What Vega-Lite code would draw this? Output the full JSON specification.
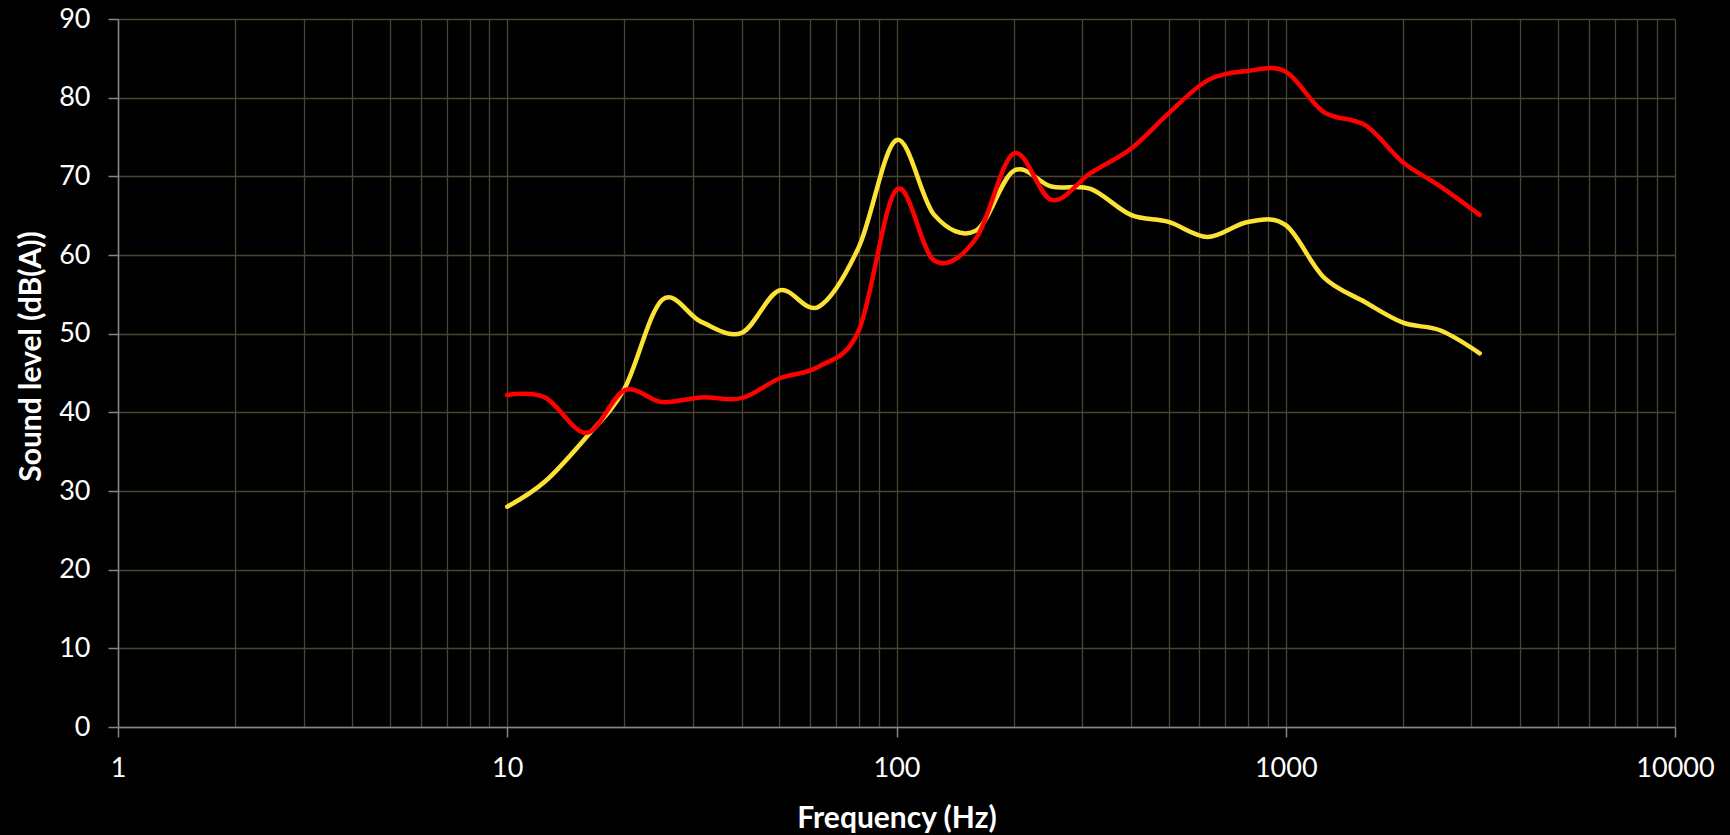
{
  "$schema": "https://vega.github.io/schema/vega-lite/v6.json",
  "width": 1557,
  "height": 708,
  "autosize": {"type": "none"},
  "padding": {"left": 118, "top": 19, "right": 55, "bottom": 108},
  "background": "#000000",
  "config": {"view": {"stroke": null}, "font": "Lato"},
  "data": {
    "values": [
      {"freq": 10, "level": 28.0, "series": "yellow"},
      {"freq": 12.5, "level": 31.2, "series": "yellow"},
      {"freq": 16, "level": 36.9, "series": "yellow"},
      {"freq": 20, "level": 43.0, "series": "yellow"},
      {"freq": 25, "level": 54.3, "series": "yellow"},
      {"freq": 31.5, "level": 51.5, "series": "yellow"},
      {"freq": 40, "level": 50.1, "series": "yellow"},
      {"freq": 50, "level": 55.5, "series": "yellow"},
      {"freq": 63, "level": 53.4, "series": "yellow"},
      {"freq": 80, "level": 61.0, "series": "yellow"},
      {"freq": 100, "level": 74.6, "series": "yellow"},
      {"freq": 125, "level": 65.1, "series": "yellow"},
      {"freq": 160, "level": 63.1, "series": "yellow"},
      {"freq": 200, "level": 70.7, "series": "yellow"},
      {"freq": 250, "level": 68.7, "series": "yellow"},
      {"freq": 315, "level": 68.4, "series": "yellow"},
      {"freq": 400, "level": 65.1, "series": "yellow"},
      {"freq": 500, "level": 64.2, "series": "yellow"},
      {"freq": 630, "level": 62.3, "series": "yellow"},
      {"freq": 800, "level": 64.2, "series": "yellow"},
      {"freq": 1000, "level": 63.8, "series": "yellow"},
      {"freq": 1250, "level": 57.2, "series": "yellow"},
      {"freq": 1600, "level": 54.0, "series": "yellow"},
      {"freq": 2000, "level": 51.4, "series": "yellow"},
      {"freq": 2500, "level": 50.4, "series": "yellow"},
      {"freq": 3150, "level": 47.5, "series": "yellow"},
      {"freq": 10, "level": 42.2, "series": "red"},
      {"freq": 12.5, "level": 41.9, "series": "red"},
      {"freq": 16, "level": 37.4, "series": "red"},
      {"freq": 20, "level": 42.8, "series": "red"},
      {"freq": 25, "level": 41.3, "series": "red"},
      {"freq": 31.5, "level": 41.9, "series": "red"},
      {"freq": 40, "level": 41.8, "series": "red"},
      {"freq": 50, "level": 44.3, "series": "red"},
      {"freq": 63, "level": 45.8, "series": "red"},
      {"freq": 80, "level": 50.4, "series": "red"},
      {"freq": 100, "level": 68.3, "series": "red"},
      {"freq": 125, "level": 59.3, "series": "red"},
      {"freq": 160, "level": 62.1, "series": "red"},
      {"freq": 200, "level": 72.9, "series": "red"},
      {"freq": 250, "level": 67.0, "series": "red"},
      {"freq": 315, "level": 70.4, "series": "red"},
      {"freq": 400, "level": 73.5, "series": "red"},
      {"freq": 500, "level": 78.0, "series": "red"},
      {"freq": 630, "level": 82.2, "series": "red"},
      {"freq": 800, "level": 83.4, "series": "red"},
      {"freq": 1000, "level": 83.3, "series": "red"},
      {"freq": 1250, "level": 78.2, "series": "red"},
      {"freq": 1600, "level": 76.5, "series": "red"},
      {"freq": 2000, "level": 71.8, "series": "red"},
      {"freq": 2500, "level": 68.7, "series": "red"},
      {"freq": 3150, "level": 65.1, "series": "red"}
    ]
  },
  "encoding": {
    "x": {
      "field": "freq",
      "type": "quantitative",
      "scale": {"type": "log", "domain": [1, 10000], "nice": false},
      "axis": {
        "values": [1,2,3,4,5,6,7,8,9,10,20,30,40,50,60,70,80,90,100,200,300,400,500,600,700,800,900,1000,2000,3000,4000,5000,6000,7000,8000,9000,10000],
        "grid": true,
        "gridColor": "#4A4432",
        "gridWidth": 1.3,
        "domainColor": "#868686",
        "domainWidth": 1.5,
        "tickColor": "#868686",
        "tickWidth": 1.5,
        "tickSize": 10,
        "tickOpacity": {"condition": {"test": "indexof([1,10,100,1000,10000], datum.value) >= 0", "value": 1}, "value": 0},
        "labelExpr": "indexof([1,10,100,1000,10000], datum.value) >= 0 ? format(datum.value, 'd') : ''",
        "labelFont": "Lato",
        "labelFontSize": 27,
        "labelColor": "#FFFFFF",
        "labelPadding": 18,
        "labelOverlap": false,
        "labelFlush": false,
        "labelBound": false,
        "title": "Frequency (Hz)",
        "titleFont": "Lato",
        "titleFontSize": 30,
        "titleFontWeight": "bold",
        "titleColor": "#FFFFFF",
        "titleBaseline": "middle",
        "titleY": 91
      }
    },
    "y": {
      "field": "level",
      "type": "quantitative",
      "scale": {"domain": [0, 90], "nice": false},
      "axis": {
        "values": [0,10,20,30,40,50,60,70,80,90],
        "grid": true,
        "gridColor": "#4A4432",
        "gridWidth": 1.3,
        "domainColor": "#868686",
        "domainWidth": 1.5,
        "tickColor": "#868686",
        "tickWidth": 1.5,
        "tickSize": 10,
        "labelFont": "Lato",
        "labelFontSize": 27,
        "labelColor": "#FFFFFF",
        "labelPadding": 18,
        "labelOverlap": false,
        "labelBound": false,
        "title": "Sound level (dB(A))",
        "titleFont": "Lato",
        "titleFontSize": 30,
        "titleFontWeight": "bold",
        "titleColor": "#FFFFFF",
        "titleBaseline": "middle",
        "titleAlign": "center",
        "titleX": -87,
        "titleY": 337
      }
    }
  },
  "layer": [
    {
      "transform": [{"filter": "datum.series === 'yellow'"}],
      "mark": {"type": "line", "interpolate": "cardinal", "tension": 0, "strokeWidth": 4.5, "strokeCap": "round", "strokeJoin": "round", "color": "#FCE235"}
    },
    {
      "transform": [{"filter": "datum.series === 'red'"}],
      "mark": {"type": "line", "interpolate": "cardinal", "tension": 0, "strokeWidth": 4.5, "strokeCap": "round", "strokeJoin": "round", "color": "#FF0000"}
    }
  ]
}
